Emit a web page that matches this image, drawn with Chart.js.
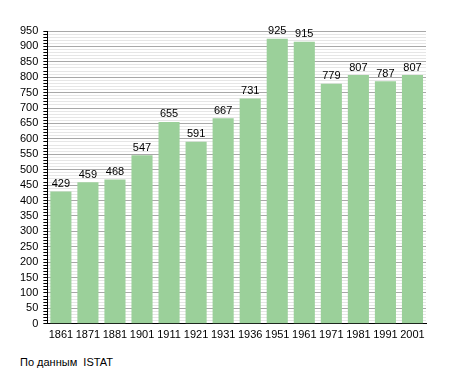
<!DOCTYPE html>
<html><head><meta charset="utf-8">
<script src="https://cdn.jsdelivr.net/npm/chart.js@4"></script>
<style>
html,body{margin:0;padding:0;background:#fff;}
#wrap{position:relative;width:455px;height:373px;}
#foot{position:absolute;left:20px;top:356px;font:11px "Liberation Sans",Arial,sans-serif;color:#000;}
</style></head>
<body>
<div id="wrap"><canvas id="c" width="455" height="347"></canvas><div id="foot">По данным&nbsp; ISTAT</div></div>
<script>
const years = ['1861','1871','1881','1901','1911','1921','1931','1936','1951','1961','1971','1981','1991','2001'];
const population = [429,459,468,547,655,591,667,731,925,915,779,807,787,807];
const yMax = 950;
const yMajorStep = 50;
const yMinorStep = 10;

const labelPlugin = {
  id: 'valueLabels',
  afterDatasetsDraw(chart){
    const ctx = chart.ctx;
    const meta = chart.getDatasetMeta(0);
    ctx.save();
    ctx.font = '11px "Liberation Sans", Arial, sans-serif';
    ctx.fillStyle = '#000';
    ctx.textAlign = 'center';
    ctx.textBaseline = 'bottom';
    meta.data.forEach((bar, i) => {
      ctx.fillText(String(chart.data.datasets[0].data[i]), bar.x, bar.y - 2);
    });
    ctx.restore();
  }
};

new Chart(document.getElementById('c'), {
  type: 'bar',
  data: {
    labels: years,
    datasets: [{
      data: population,
      backgroundColor: '#9bd09a',
      borderWidth: 0,
      barPercentage: 0.78,
      categoryPercentage: 1.0
    }]
  },
  options: {
    responsive: false,
    animation: false,
    layout: { padding: { top: 31, right: 29, left: 15, bottom: 0 } },
    plugins: { legend: { display: false }, tooltip: { enabled: false } },
    scales: {
      x: {
        grid: { display: false, drawTicks: false },
        border: { color: '#000', width: 1 },
        ticks: { color: '#000', font: { family: '"Liberation Sans", Arial, sans-serif', size: 11 }, padding: 5, maxRotation: 0, autoSkip: false }
      },
      y: {
        min: 0, max: yMax,
        border: { color: '#000', width: 1 },
        grid: {
          color: c => (c.tick && c.tick.value % yMajorStep === 0) ? '#a8a8a8' : '#e6e6e6',
          tickColor: '#000',
          tickLength: 4
        },
        ticks: {
          stepSize: yMinorStep,
          autoSkip: false,
          color: '#000',
          padding: 5,
          font: { family: '"Liberation Sans", Arial, sans-serif', size: 11 },
          callback: v => (v % yMajorStep === 0) ? String(v) : ''
        }
      }
    }
  },
  plugins: [labelPlugin]
});
</script>
</body></html>
